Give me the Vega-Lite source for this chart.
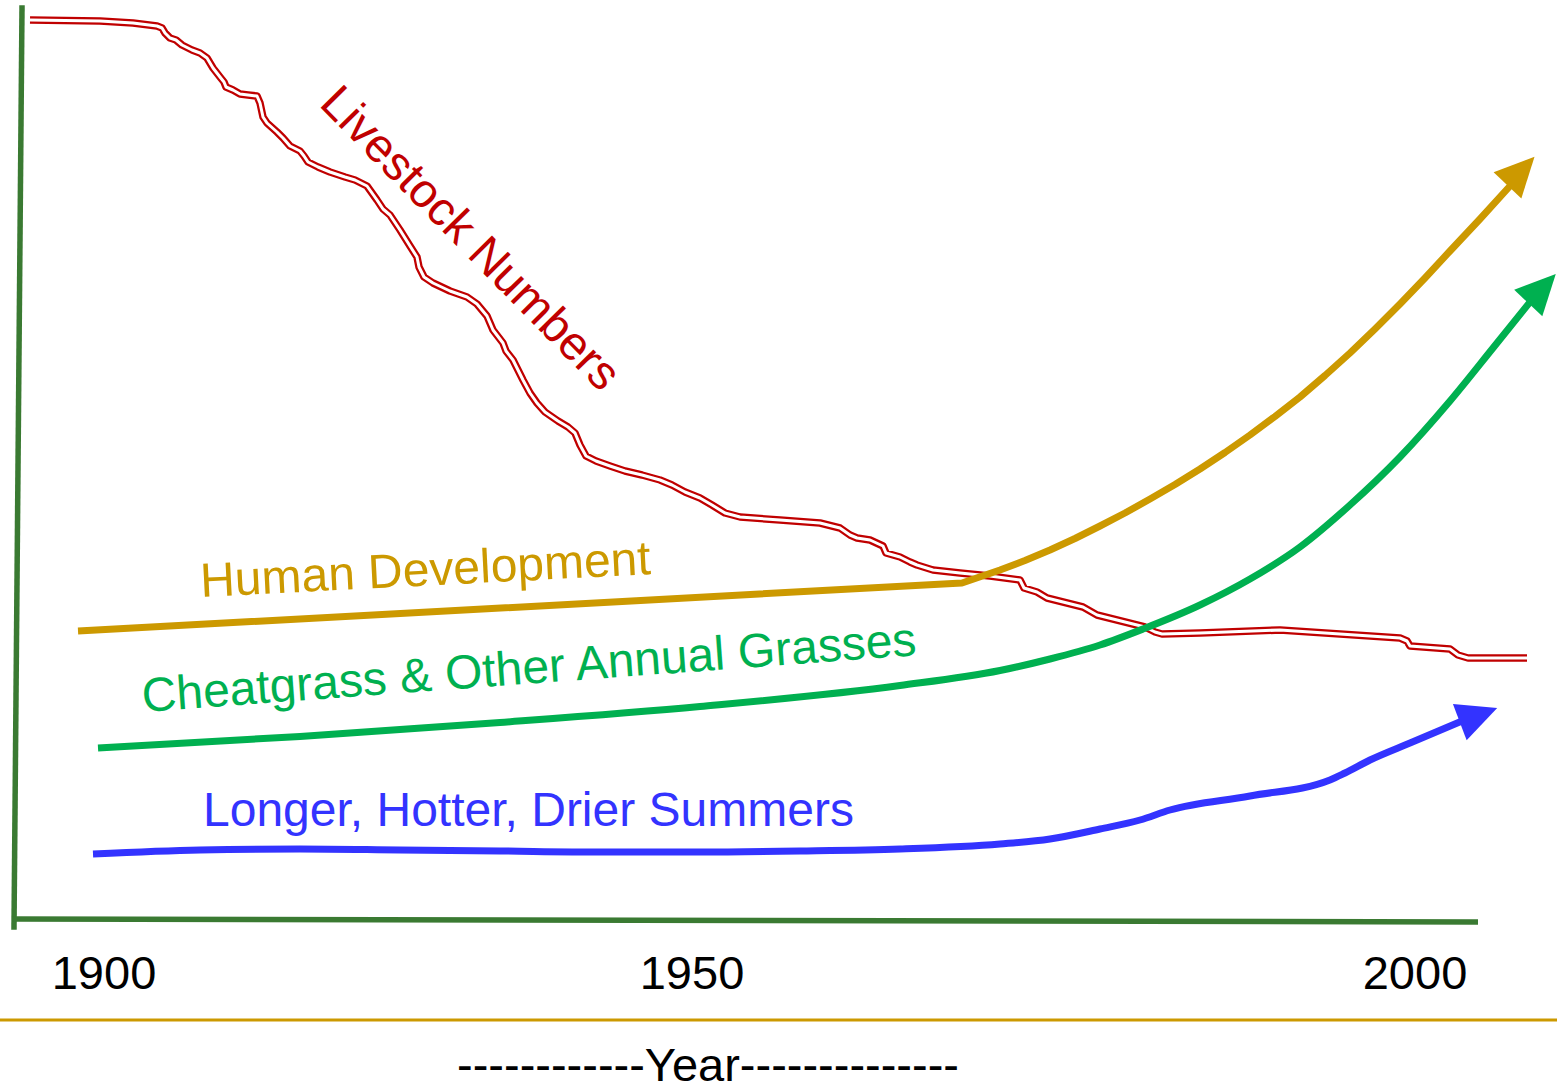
{
  "$schema": "https://vega.github.io/schema/vega-lite/v6.json",
  "width": 1557,
  "height": 1085,
  "autosize": {"type": "none"},
  "padding": 0,
  "background": "white",
  "config": {"view": {"stroke": null}, "text": {"font": "Liberation Sans"}},
  "datasets": {
    "yaxis": [{"x": 22, "y": 8}, {"x": 14, "y": 927}],
    "xaxis": [{"x": 12, "y": 919}, {"x": 1478, "y": 922}],
    "rule": [{"x": 0, "y": 1020}, {"x": 1557, "y": 1020}],
    "livestock": [
      {"x": 30, "y": 20}, {"x": 100, "y": 21}, {"x": 133, "y": 23}, {"x": 157, "y": 26}, {"x": 162, "y": 28}, {"x": 165, "y": 33}, {"x": 170, "y": 38}, {"x": 176, "y": 40}, {"x": 182, "y": 45}, {"x": 192, "y": 50}, {"x": 200, "y": 53}, {"x": 207, "y": 58}, {"x": 213, "y": 68}, {"x": 220, "y": 77}, {"x": 224, "y": 82}, {"x": 226, "y": 87}, {"x": 233, "y": 90}, {"x": 240, "y": 94}, {"x": 248, "y": 95}, {"x": 257, "y": 96}, {"x": 260, "y": 103}, {"x": 263, "y": 117}, {"x": 267, "y": 123}, {"x": 277, "y": 132}, {"x": 283, "y": 138}, {"x": 290, "y": 146}, {"x": 300, "y": 151}, {"x": 304, "y": 156}, {"x": 308, "y": 162}, {"x": 318, "y": 167}, {"x": 330, "y": 172}, {"x": 345, "y": 177}, {"x": 355, "y": 180}, {"x": 367, "y": 186}, {"x": 377, "y": 200}, {"x": 383, "y": 209}, {"x": 390, "y": 215}, {"x": 400, "y": 230}, {"x": 410, "y": 246}, {"x": 417, "y": 257}, {"x": 419, "y": 267}, {"x": 424, "y": 277}, {"x": 433, "y": 283}, {"x": 450, "y": 291}, {"x": 467, "y": 297}, {"x": 477, "y": 304}, {"x": 487, "y": 316}, {"x": 493, "y": 330}, {"x": 503, "y": 343}, {"x": 506, "y": 351}, {"x": 513, "y": 360}, {"x": 523, "y": 380}, {"x": 530, "y": 393}, {"x": 537, "y": 403}, {"x": 545, "y": 412}, {"x": 558, "y": 421}, {"x": 568, "y": 427}, {"x": 575, "y": 433}, {"x": 580, "y": 445}, {"x": 586, "y": 456}, {"x": 596, "y": 461}, {"x": 610, "y": 466}, {"x": 625, "y": 471}, {"x": 642, "y": 475}, {"x": 660, "y": 480}, {"x": 672, "y": 485}, {"x": 685, "y": 492}, {"x": 700, "y": 498}, {"x": 712, "y": 505}, {"x": 725, "y": 513}, {"x": 740, "y": 517}, {"x": 780, "y": 520}, {"x": 820, "y": 523}, {"x": 840, "y": 528}, {"x": 850, "y": 535}, {"x": 857, "y": 538}, {"x": 870, "y": 540}, {"x": 883, "y": 546}, {"x": 886, "y": 553}, {"x": 900, "y": 557}, {"x": 910, "y": 562}, {"x": 917, "y": 565}, {"x": 933, "y": 570}, {"x": 960, "y": 573}, {"x": 990, "y": 576}, {"x": 1020, "y": 580}, {"x": 1024, "y": 588}, {"x": 1037, "y": 592}, {"x": 1047, "y": 598}, {"x": 1083, "y": 607}, {"x": 1097, "y": 615}, {"x": 1117, "y": 620}, {"x": 1133, "y": 624}, {"x": 1145, "y": 627}, {"x": 1155, "y": 632}, {"x": 1162, "y": 634}, {"x": 1200, "y": 633}, {"x": 1280, "y": 630}, {"x": 1340, "y": 634}, {"x": 1400, "y": 638}, {"x": 1407, "y": 641}, {"x": 1410, "y": 646}, {"x": 1450, "y": 649}, {"x": 1458, "y": 655}, {"x": 1468, "y": 658}, {"x": 1527, "y": 658}
    ],
    "human": [
      {"x": 78, "y": 631}, {"x": 962, "y": 583}, {"x": 1000, "y": 570}, {"x": 1025, "y": 560.5}, {"x": 1050, "y": 550}, {"x": 1075, "y": 538.5}, {"x": 1100, "y": 526}, {"x": 1125, "y": 513}, {"x": 1150, "y": 499}, {"x": 1175, "y": 484.5}, {"x": 1200, "y": 469}, {"x": 1225, "y": 452.5}, {"x": 1250, "y": 435}, {"x": 1275, "y": 416.5}, {"x": 1300, "y": 397}, {"x": 1325, "y": 375.5}, {"x": 1350, "y": 353}, {"x": 1375, "y": 329}, {"x": 1400, "y": 304}, {"x": 1425, "y": 278}, {"x": 1450, "y": 251}, {"x": 1480, "y": 219}, {"x": 1510, "y": 186}
    ],
    "cheatgrass": [
      {"x": 98, "y": 748}, {"x": 300, "y": 736.5}, {"x": 500, "y": 722.5}, {"x": 700, "y": 706.5}, {"x": 900, "y": 685.5}, {"x": 1000, "y": 670.5}, {"x": 1050, "y": 659}, {"x": 1100, "y": 645}, {"x": 1143, "y": 629}, {"x": 1200, "y": 605}, {"x": 1250, "y": 579}, {"x": 1300, "y": 547}, {"x": 1350, "y": 505}, {"x": 1400, "y": 457}, {"x": 1450, "y": 401}, {"x": 1493, "y": 348}, {"x": 1530, "y": 302}
    ],
    "summers": [
      {"x": 93, "y": 854}, {"x": 200, "y": 850}, {"x": 300, "y": 849}, {"x": 400, "y": 850}, {"x": 500, "y": 851}, {"x": 600, "y": 852}, {"x": 700, "y": 852}, {"x": 800, "y": 851}, {"x": 900, "y": 849}, {"x": 1000, "y": 844}, {"x": 1050, "y": 839}, {"x": 1100, "y": 829}, {"x": 1140, "y": 820}, {"x": 1170, "y": 810}, {"x": 1250, "y": 796}, {"x": 1330, "y": 780}, {"x": 1345, "y": 773}, {"x": 1370, "y": 760}, {"x": 1410, "y": 743}, {"x": 1462, "y": 721}
    ]
  },
  "encoding": {
    "x": {"field": "x", "type": "quantitative", "scale": {"domain": [0, 1557], "nice": false, "zero": false}, "axis": null},
    "y": {"field": "y", "type": "quantitative", "scale": {"domain": [0, 1085], "nice": false, "zero": false, "reverse": true}, "axis": null}
  },
  "layer": [
    {"data": {"name": "yaxis"}, "mark": {"type": "line", "color": "#3a7a32", "strokeWidth": 5.5, "strokeCap": "square"}, "encoding": {"order": {"value": null}}},
    {"data": {"name": "xaxis"}, "mark": {"type": "line", "color": "#3a7a32", "strokeWidth": 5.5}, "encoding": {}},
    {"data": {"name": "rule"}, "mark": {"type": "line", "color": "#cc9900", "strokeWidth": 3}, "encoding": {}},
    {"data": {"name": "livestock"}, "mark": {"type": "line", "color": "#c00000", "strokeWidth": 7.5, "strokeJoin": "round"}, "encoding": {"order": {"value": null}}},
    {"data": {"name": "livestock"}, "mark": {"type": "line", "color": "#ffffff", "strokeWidth": 3, "strokeJoin": "round"}, "encoding": {"order": {"value": null}}},
    {"data": {"name": "human"}, "mark": {"type": "line", "color": "#cc9900", "strokeWidth": 7, "strokeJoin": "round"}, "encoding": {}},
    {"data": {"name": "cheatgrass"}, "mark": {"type": "line", "color": "#00b050", "strokeWidth": 7, "interpolate": "monotone"}, "encoding": {}},
    {"data": {"name": "summers"}, "mark": {"type": "line", "color": "#3333ff", "strokeWidth": 7, "interpolate": "monotone"}, "encoding": {}},
    {"data": {"values": [{"x": 1521, "y": 171}]}, "mark": {"type": "point", "shape": "M0,-1L0.97,1L-0.97,1Z", "filled": true, "opacity": 1, "color": "#cc9900", "size": 1550, "angle": 43.4}},
    {"data": {"values": [{"x": 1542, "y": 288.5}]}, "mark": {"type": "point", "shape": "M0,-1L0.97,1L-0.97,1Z", "filled": true, "opacity": 1, "color": "#00b050", "size": 1600, "angle": 43.5}},
    {"data": {"values": [{"x": 1478.5, "y": 715}]}, "mark": {"type": "point", "shape": "M0,-1L0.97,1L-0.97,1Z", "filled": true, "opacity": 1, "color": "#3333ff", "size": 1600, "angle": 69.3}},
    {"data": {"values": [{"label": "Livestock Numbers", "x": 318, "y": 105}]}, "mark": {"type": "text", "align": "left", "baseline": "alphabetic", "angle": 45.5, "fontSize": 47.5, "color": "#c00000"}, "encoding": {"text": {"field": "label"}}},
    {"data": {"values": [{"label": "Human Development", "x": 201, "y": 597}]}, "mark": {"type": "text", "align": "left", "baseline": "alphabetic", "angle": 357.1, "fontSize": 48, "color": "#cc9900"}, "encoding": {"text": {"field": "label"}}},
    {"data": {"values": [{"label": "Cheatgrass & Other Annual Grasses", "x": 143, "y": 712}]}, "mark": {"type": "text", "align": "left", "baseline": "alphabetic", "angle": 355.8, "fontSize": 48, "color": "#00b050"}, "encoding": {"text": {"field": "label"}}},
    {"data": {"values": [{"label": "Longer, Hotter, Drier Summers", "x": 203, "y": 826}]}, "mark": {"type": "text", "align": "left", "baseline": "alphabetic", "fontSize": 48, "color": "#3333ff"}, "encoding": {"text": {"field": "label"}}},
    {"data": {"values": [{"label": "1900", "x": 104, "y": 989}, {"label": "1950", "x": 692, "y": 989}, {"label": "2000", "x": 1415, "y": 989}]}, "mark": {"type": "text", "align": "center", "baseline": "alphabetic", "fontSize": 47, "color": "#000000"}, "encoding": {"text": {"field": "label"}}},
    {"data": {"values": [{"label": "------------Year--------------", "x": 708, "y": 1081}]}, "mark": {"type": "text", "align": "center", "baseline": "alphabetic", "fontSize": 47, "color": "#000000"}, "encoding": {"text": {"field": "label"}}}
  ]
}
